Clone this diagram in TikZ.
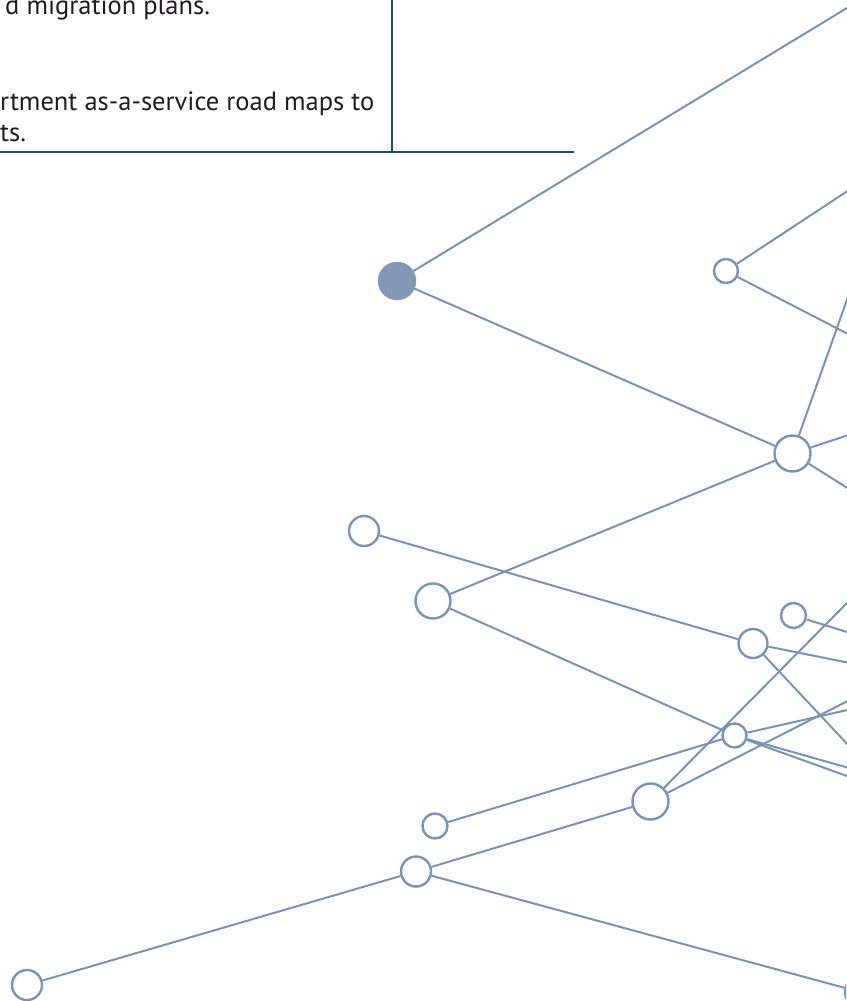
\documentclass[tikz,border=0pt]{standalone}
\usepackage{fontspec}
\setmainfont{PT Sans}
\definecolor{edgec}{RGB}{122,146,182}
\definecolor{fillc}{RGB}{132,151,183}
\definecolor{rulec}{RGB}{28,72,120}
\definecolor{textc}{RGB}{30,28,30}
\pgfdeclarelayer{bg}
\pgfsetlayers{bg,main}
\begin{document}
\begin{tikzpicture}[x=1pt,y=-1pt,
  hub/.style={circle,draw=edgec,line width=2.4pt,fill=white,inner sep=0pt},
  solidhub/.style={circle,draw=fillc,fill=fillc,inner sep=0pt},
  link/.style={draw=edgec,line width=2pt},
  rulev/.style={draw=rulec,line width=1.5pt},
  ruleh/.style={draw=rulec,line width=2.8pt},
  txt/.style={anchor=base west,inner sep=0pt,text=textc,font=\fontsize{26.5}{31}\selectfont}]
\useasboundingbox (0,0) rectangle (846,1001);
\clip (0,0) rectangle (846,1001);

% text box
\node[txt] (t1) at (5,14) {d migration plans.};
\node[txt] (t2) at (0,110) {rtment as-a-service road maps to};
\node[txt] (t3) at (0,141) {ts.};
\coordinate (rv1) at (392,0);
\coordinate (rv2) at (392,152);
\coordinate (rh1) at (0,152);
\coordinate (rh2) at (574,152);
\draw[rulev] (rv1) -- (rv2);
\draw[ruleh] (rh1) -- (rh2);

% nodes
\node[solidhub,minimum size=38pt] (F) at (397,281) {};
\node[hub,minimum size=24pt] (A) at (726,271) {};
\node[hub,minimum size=36pt] (B) at (792.5,453.5) {};
\node[hub,minimum size=30pt] (C) at (364,531) {};
\node[hub,minimum size=35pt] (D) at (433,601) {};
\node[hub,minimum size=25pt] (E) at (793.5,615.5) {};
\node[hub,minimum size=29pt] (G) at (753,643.5) {};
\node[hub,minimum size=24pt] (H) at (734.5,735.5) {};
\node[hub,minimum size=36pt] (I) at (650.5,801.5) {};
\node[hub,minimum size=25pt] (J) at (435,826) {};
\node[hub,minimum size=30pt] (K) at (416,871.5) {};
\node[hub,minimum size=30pt] (L) at (27,985) {};
\node[hub,minimum size=30pt] (M) at (860,992) {};

% off-canvas ends
\coordinate (pF) at (936,-46);
\coordinate (pA1) at (966,113);
\coordinate (pA2) at (966,395);
\coordinate (pB1) at (873,226);
\coordinate (pB2) at (900,418);
\coordinate (pB3) at (900,521);
\coordinate (pG1) at (939,681);
\coordinate (pG2) at (939,842);
\coordinate (pE) at (899,648);
\coordinate (pI1) at (1042,406);
\coordinate (pI2) at (1042,602);
\coordinate (pH1) at (958,685);
\coordinate (pH2) at (958,799);
\coordinate (pH3) at (958,816);

\begin{pgfonlayer}{bg}
\draw[link] (F) -- (pF);
\draw[link] (F) -- (B);
\draw[link] (A) -- (pA1);
\draw[link] (A) -- (pA2);
\draw[link] (B) -- (pB1);
\draw[link] (B) -- (pB2);
\draw[link] (B) -- (pB3);
\draw[link] (B) -- (D);
\draw[link] (C) -- (G);
\draw[link] (G) -- (pG1);
\draw[link] (G) -- (pG2);
\draw[link] (E) -- (pE);
\draw[link] (D) -- (H);
\draw[link] (J) -- (H);
\draw[link] (H) -- (pH1);
\draw[link] (H) -- (pH2);
\draw[link] (H) -- (pH3);
\draw[link] (I) -- (pI1);
\draw[link] (I) -- (pI2);
\draw[link] (I) -- (K);
\draw[link] (K) -- (L);
\draw[link] (K) -- (M);
\end{pgfonlayer}
\end{tikzpicture}
\end{document}
